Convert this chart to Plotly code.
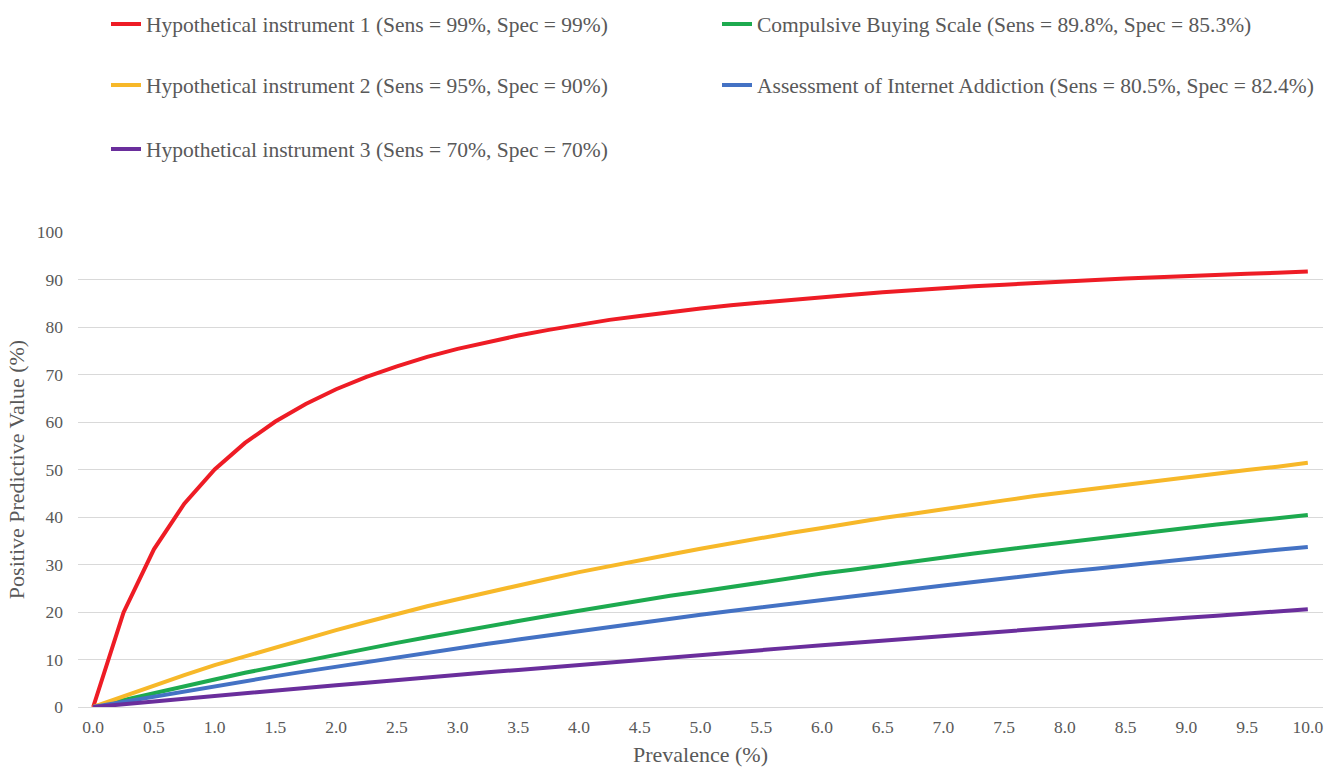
import plotly.graph_objects as go

prevalence = [i * 0.25 for i in range(41)]

hyp1 = [0.0, 19.9, 33.2, 42.8, 50.0, 55.6, 60.1, 63.8, 66.9, 69.5, 71.7, 73.7, 75.4, 76.9, 78.2, 79.4,
        80.5, 81.5, 82.3, 83.2, 83.9, 84.6, 85.2, 85.8, 86.3, 86.8, 87.3, 87.8, 88.2, 88.6, 88.9, 89.3,
        89.6, 89.9, 90.2, 90.5, 90.7, 91.0, 91.2, 91.4, 91.7]
hyp2 = [0.0, 2.3, 4.6, 6.7, 8.8, 10.7, 12.6, 14.5, 16.2, 17.9, 19.6, 21.2, 22.7, 24.2, 25.6, 27.0,
        28.4, 29.7, 30.9, 32.1, 33.3, 34.5, 35.6, 36.7, 37.7, 38.8, 39.8, 40.7, 41.7, 42.6, 43.5, 44.4,
        45.2, 46.1, 46.9, 47.7, 48.4, 49.2, 49.9, 50.6, 51.4]
hyp3 = [0.0, 0.6, 1.2, 1.7, 2.3, 2.9, 3.4, 4.0, 4.6, 5.1, 5.7, 6.2, 6.7, 7.3, 7.8, 8.3,
        8.9, 9.4, 9.9, 10.4, 10.9, 11.5, 12.0, 12.5, 13.0, 13.5, 14.0, 14.5, 14.9, 15.4, 15.9, 16.4,
        16.9, 17.3, 17.8, 18.3, 18.8, 19.2, 19.7, 20.1, 20.6]
cbs = [0.0, 1.5, 3.0, 4.4, 5.8, 7.2, 8.5, 9.8, 11.1, 12.3, 13.5, 14.7, 15.9, 17.0, 18.1, 19.2,
       20.3, 21.3, 22.4, 23.4, 24.3, 25.3, 26.2, 27.2, 28.1, 28.9, 29.8, 30.7, 31.5, 32.3, 33.1, 33.9,
       34.7, 35.5, 36.2, 36.9, 37.7, 38.4, 39.1, 39.8, 40.4]
aia = [0.0, 1.1, 2.3, 3.3, 4.4, 5.5, 6.5, 7.5, 8.5, 9.5, 10.5, 11.5, 12.4, 13.3, 14.2, 15.1,
       16.0, 16.9, 17.7, 18.6, 19.4, 20.2, 21.0, 21.8, 22.6, 23.4, 24.1, 24.9, 25.6, 26.3, 27.1, 27.8,
       28.5, 29.1, 29.8, 30.5, 31.2, 31.8, 32.4, 33.1, 33.7]

names = {
    "hyp1": "Hypothetical instrument 1 (Sens = 99%, Spec = 99%)",
    "cbs": "Compulsive Buying Scale (Sens = 89.8%, Spec = 85.3%)",
    "hyp2": "Hypothetical instrument 2 (Sens = 95%, Spec = 90%)",
    "aia": "Assessment of Internet Addiction (Sens = 80.5%, Spec = 82.4%)",
    "hyp3": "Hypothetical instrument 3 (Sens = 70%, Spec = 70%)",
}
x_ticks = [i * 0.5 for i in range(21)]
x_labels = [f"{v:.1f}" for v in x_ticks]
y_ticks = list(range(0, 101, 10))

FONT = "Liberation Serif"
TXT = "#595959"

series = [
    ("hyp1", hyp1, "#EE1C25", "legend"),
    ("cbs", cbs, "#1DAA4F", "legend"),
    ("hyp2", hyp2, "#F7B829", "legend2"),
    ("aia", aia, "#4472C4", "legend2"),
    ("hyp3", hyp3, "#6A2E9C", "legend3"),
]

fig = go.Figure()
for key, vals, color, lg in series:
    fig.add_trace(go.Scatter(x=prevalence, y=vals, mode="lines", name=names[key],
                             line=dict(color=color, width=4), legend=lg))

leg_common = dict(orientation="h", xref="container", yref="container",
                  x=106 / 1337, xanchor="left", yanchor="middle",
                  entrywidth=566, entrywidthmode="pixels",
                  font=dict(family=FONT, size=21.5, color=TXT),
                  bgcolor="rgba(0,0,0,0)", itemwidth=30)

fig.update_layout(
    width=1337, height=767,
    margin=dict(l=78, r=14, t=232, b=60),
    paper_bgcolor="white", plot_bgcolor="white",
    font=dict(family=FONT, color=TXT),
    legend=dict(**leg_common, y=1 - 24 / 767),
    legend2=dict(**leg_common, y=1 - 85 / 767),
    legend3=dict(**leg_common, y=1 - 149 / 767),
    xaxis=dict(range=[-0.125, 10.125], tickvals=x_ticks, ticktext=x_labels, automargin=False,
               showgrid=False, zeroline=False, showline=True, linecolor="#D9D9D9", linewidth=1,
               tickfont=dict(family=FONT, size=17.5, color=TXT), ticklabelstandoff=4,
               title=dict(text="Prevalence (%)", font=dict(family=FONT, size=22, color=TXT), standoff=11)),
    yaxis=dict(range=[0, 100], tickvals=y_ticks, showgrid=True, gridcolor="#D9D9D9", gridwidth=1,
               zeroline=False, showline=False, automargin=False,
               tickfont=dict(family=FONT, size=17.5, color=TXT), ticklabelstandoff=14,
               title=dict(text="Positive Predictive Value (%)", font=dict(family=FONT, size=22, color=TXT), standoff=6)),
)

fig.write_html("out.html", config={"displayModeBar": False},
               post_script="document.body.style.margin='0';")
